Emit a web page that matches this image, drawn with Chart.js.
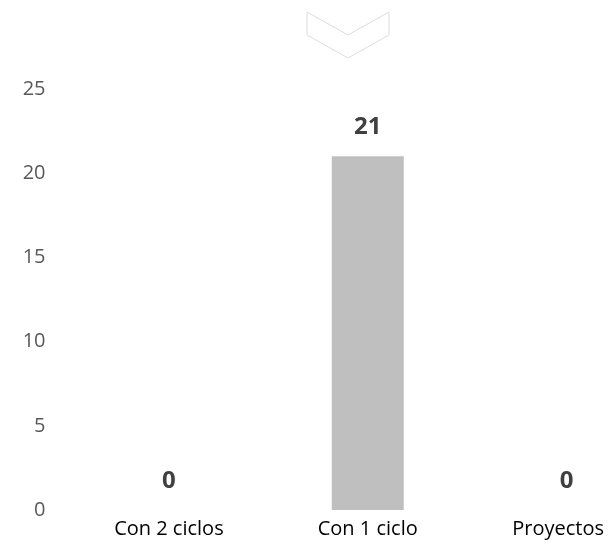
<!DOCTYPE html>
<html>
<head>
<meta charset="utf-8">
<script src="https://cdn.jsdelivr.net/npm/chart.js@4"></script>
<style>
  body { margin: 0; background: #fff; overflow: hidden; width: 615px; height: 547px; position: relative; }
  #chevron { position: absolute; left: 0; top: 0; }
  canvas { position: absolute; left: 0; top: 0; }
</style>
</head>
<body>
<canvas id="myChart" width="666" height="547"></canvas>
<svg id="chevron" width="615" height="70">
  <polygon points="307,12 348,35 389,12 389,35 348,58 307,35" fill="none" stroke="#dcdcdc" stroke-width="1"/>
</svg>
<script>
// datos del grafico
const categorias = ['Con 2 ciclos', 'Con 1 ciclo', 'Proyectos']
const valores = [0, 21, 0]
const ticksY = [0, 5, 10, 15, 20, 25]

// etiquetas de valor encima de cada barra + categorias (sin salirse de la ventana)
const etiquetas = {
  id: 'etiquetas',
  afterDatasetsDraw(chart) {
    const { ctx } = chart
    const meta = chart.getDatasetMeta(0)
    ctx.save()
    ctx.font = 'bold 24px "Open Sans"'
    ctx.fillStyle = '#404040'
    ctx.textAlign = 'center'
    ctx.textBaseline = 'alphabetic'
    meta.data.forEach((bar, i) => {
      ctx.fillText(String(valores[i]), bar.x, bar.y - 22)
    })

    const x = chart.scales.x
    ctx.font = '20px "Open Sans"'
    ctx.fillStyle = '#000000'
    ctx.textBaseline = 'middle'
    categorias.forEach((cat, i) => {
      const w = ctx.measureText(cat).width
      let cx = x.getPixelForTick(i)
      if (cx + w / 2 > 604) cx = 604 - w / 2
      ctx.fillText(cat, cx, x.top + 19)
    })
    ctx.restore()
  }
}

const ctx = document.getElementById('myChart')

new Chart(ctx, {
  type: 'bar',
  data: {
    labels: categorias,
    datasets: [{
      data: valores,
      backgroundColor: '#bfbfbf',
      categoryPercentage: 1,
      barPercentage: 0.362
    }]
  },
  options: {
    responsive: false,
    animation: false,
    layout: { padding: { top: 89, right: 0, bottom: 0, left: 0 } },
    plugins: {
      legend: { display: false },
      tooltip: { enabled: false }
    },
    scales: {
      x: {
        grid: { display: false, drawTicks: false },
        border: { display: false },
        ticks: { display: false },
        afterFit(scale) { scale.height = 37 }
      },
      y: {
        min: 0,
        max: 25,
        afterBuildTicks(scale) { scale.ticks = ticksY.map(v => ({ value: v })) },
        grid: { display: false, drawTicks: false },
        border: { display: false },
        ticks: {
          color: '#595959',
          font: { family: 'Open Sans', size: 20 },
          padding: 24
        },
        afterFit(scale) { scale.width = 69.5 }
      }
    }
  },
  plugins: [etiquetas]
})
</script>
</body>
</html>
